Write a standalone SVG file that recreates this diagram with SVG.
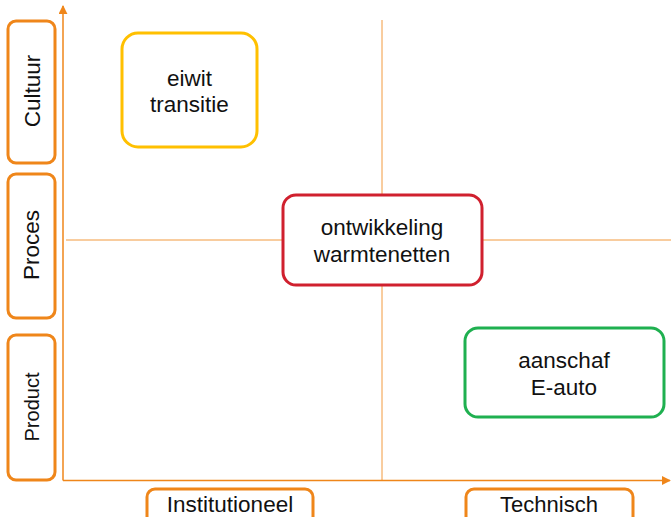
<svg xmlns="http://www.w3.org/2000/svg" width="671" height="517" viewBox="0 0 671 517">
  <style>
    .lbl { font-family: "Liberation Sans", Arial, sans-serif; font-size: 22.5px; fill: #111111; text-anchor: middle; }
    .axisbox { fill: #ffffff; stroke: #EF861A; stroke-width: 3; }
    .node { fill: #ffffff; stroke-width: 3; }
    .axis { stroke: #EF861A; stroke-width: 1.5; fill: none; }
    .divider { stroke: #F29A3E; stroke-width: 1; fill: none; }
  </style>
  <defs>
    <marker id="arrow" viewBox="0 0 10 10" refX="9" refY="5" markerWidth="9" markerHeight="9" markerUnits="userSpaceOnUse" orient="auto">
      <path d="M0,0 L10,5 L0,10 z" fill="#EF861A"/>
    </marker>
  </defs>
  <rect width="671" height="517" fill="#ffffff"/>

  <g id="connectors">
    <line class="divider" x1="382" y1="20" x2="382" y2="480"/>
    <line class="divider" x1="66" y1="240" x2="671" y2="240"/>
    <line class="axis" x1="63" y1="480.5" x2="63" y2="6" marker-end="url(#arrow)"/>
    <line class="axis" x1="63" y1="480.5" x2="670" y2="480.5" marker-end="url(#arrow)"/>
  </g>

  <g id="axis-cultuur">
    <rect class="axisbox" x="8" y="21" width="47" height="142" rx="8"/>
    <text class="lbl" transform="translate(40,91) rotate(-90)">Cultuur</text>
  </g>
  <g id="axis-proces">
    <rect class="axisbox" x="8" y="174" width="47" height="144" rx="8"/>
    <text class="lbl" transform="translate(39,245) rotate(-90)">Proces</text>
  </g>
  <g id="axis-product">
    <rect class="axisbox" x="8" y="335" width="47" height="145" rx="8"/>
    <text class="lbl" style="font-size:20px" transform="translate(38.5,407) rotate(-90)">Product</text>
  </g>
  <g id="axis-institutioneel">
    <rect class="axisbox" x="147" y="489" width="166" height="40" rx="8"/>
    <text class="lbl" x="230" y="511.5">Institutioneel</text>
  </g>
  <g id="axis-technisch">
    <rect class="axisbox" x="466" y="489" width="167" height="40" rx="8"/>
    <text class="lbl" style="font-size:22px" x="549" y="511.5">Technisch</text>
  </g>

  <g id="node-eiwit">
    <rect class="node" stroke="#FFC000" x="122" y="33" width="135" height="114" rx="16"/>
    <text class="lbl" x="189.5" y="85.5">eiwit</text>
    <text class="lbl" x="189.5" y="112">transitie</text>
  </g>
  <g id="node-warmtenetten">
    <rect class="node" stroke="#D0202E" x="283" y="195" width="199" height="90" rx="13"/>
    <text class="lbl" x="382" y="235">ontwikkeling</text>
    <text class="lbl" x="382" y="262">warmtenetten</text>
  </g>
  <g id="node-eauto">
    <rect class="node" stroke="#1FB050" x="465" y="328" width="199" height="89" rx="13"/>
    <text class="lbl" x="564" y="367.5">aanschaf</text>
    <text class="lbl" x="564" y="395">E-auto</text>
  </g>
</svg>
